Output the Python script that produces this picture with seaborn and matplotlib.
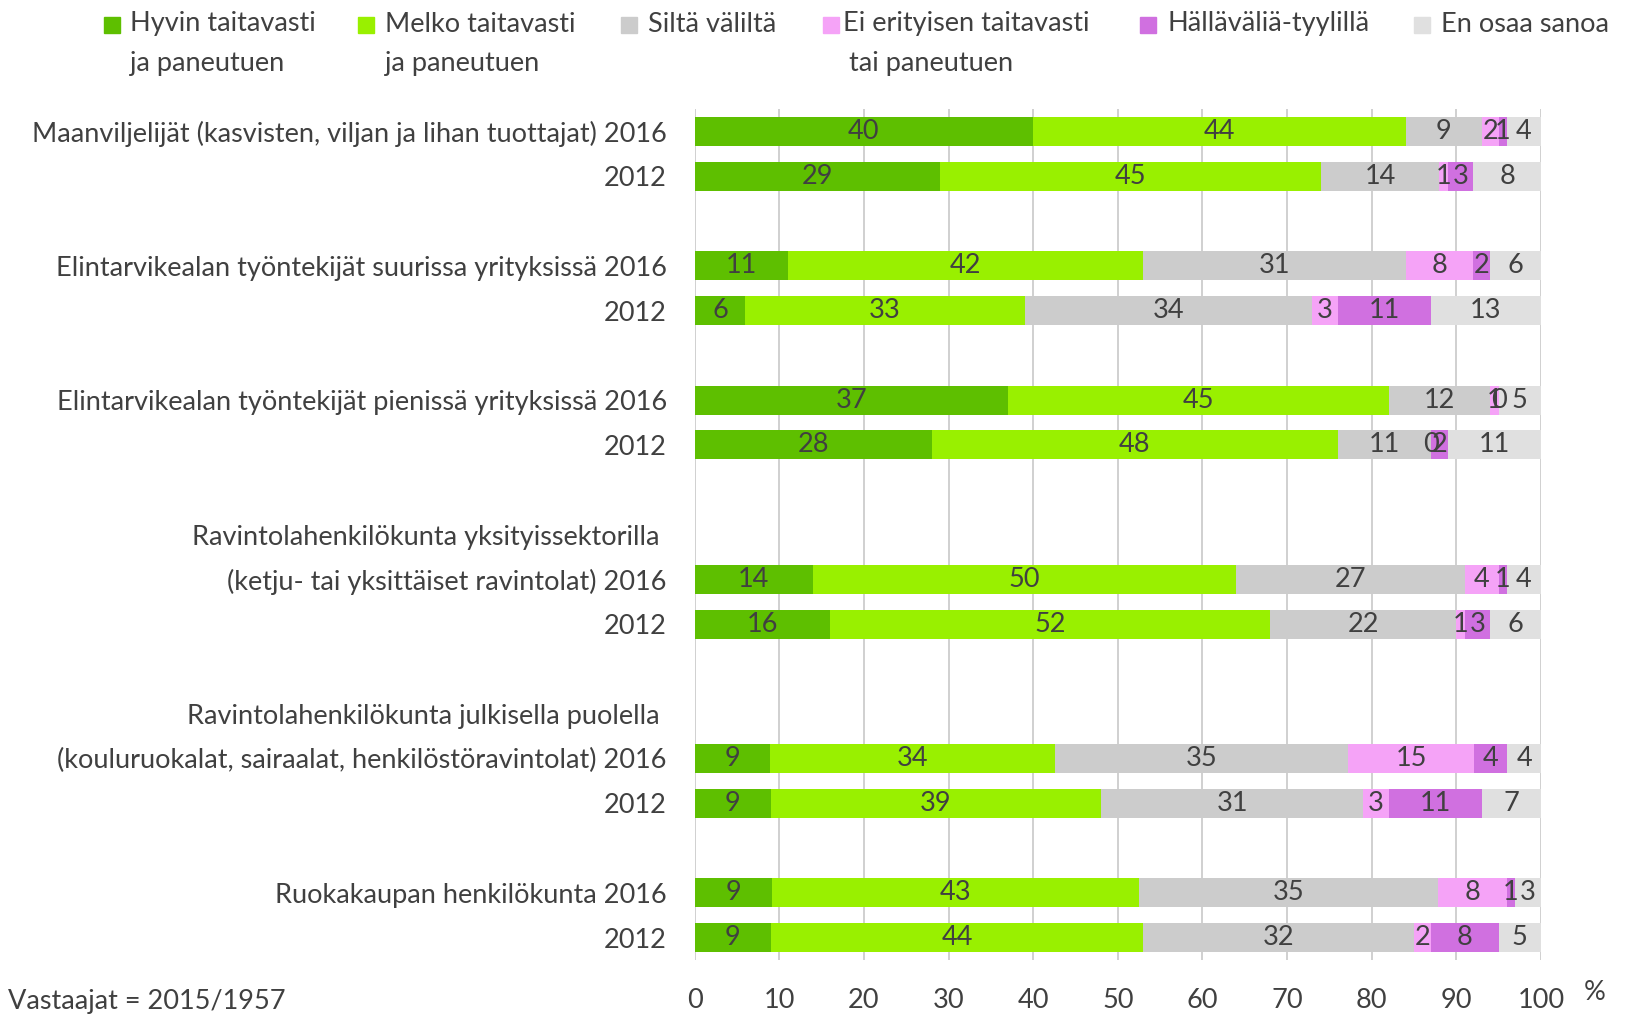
import numpy as np
import matplotlib
matplotlib.use("Agg")
import matplotlib.pyplot as plt
import seaborn as sns
from matplotlib.patches import Rectangle


# DATA

series = ["Hyvin taitavasti\nja paneutuen", "Melko taitavasti\nja paneutuen", "Siltä väliltä",
          "Ei erityisen taitavasti\ntai paneutuen", "Hälläväliä-tyylillä", "En osaa sanoa"]

row_labels = ["Maanviljelijät (kasvisten, viljan ja lihan tuottajat) 2016", "2012",
              "Elintarvikealan työntekijät suurissa yrityksissä 2016", "2012",
              "Elintarvikealan työntekijät pienissä yrityksissä 2016", "2012",
              "(ketju- tai yksittäiset ravintolat) 2016", "2012",
              "(kouluruokalat, sairaalat, henkilöstöravintolat) 2016", "2012",
              "Ruokakaupan henkilökunta 2016", "2012"]

group_headers = {9: "Ravintolahenkilökunta yksityissektorilla ",
                 13: "Ravintolahenkilökunta julkisella puolella "}

hyvin = [40, 29, 11, 6, 37, 28, 14, 16, 9, 9, 9, 9]
melko = [44, 45, 42, 33, 45, 48, 50, 52, 34, 39, 43, 44]
silta = [9, 14, 31, 34, 12, 11, 27, 22, 35, 31, 35, 32]
ei_erit = [2, 1, 8, 3, 1, 0, 4, 1, 15, 3, 8, 2]
hallvalia = [1, 3, 2, 11, 0, 2, 1, 3, 4, 11, 1, 8]
en_osaa = [4, 8, 6, 13, 5, 11, 4, 6, 4, 7, 3, 5]

x_ticks = list(range(0, 101, 10))
note = "Vastaajat = 2015/1957"

# LAYOUT (bar slots, with empty slots between the groups)

positions = np.array([0, 1, 3, 4, 6, 7, 10, 11, 14, 15, 17, 18])
colors = ["#5EBF00", "#99F000", "#CCCCCC", "#F5A3F7", "#D070E0", "#E0E0E0"]
TXT = "#404040"
FS = 19.5

sns.set_theme(style="white")
plt.rcParams['font.family'] = ['Lato', 'DejaVu Sans']

values = np.array([hyvin, melko, silta, ei_erit, hallvalia, en_osaa], dtype=float)
widths = values / values.sum(axis=0) * 100
cum = np.cumsum(widths, axis=0)

fig = plt.figure(figsize=(16.28, 10.16), dpi=100)
ax = fig.add_axes([694.6 / 1628, 1 - 960 / 1016, (1541 - 694.6) / 1628, (960 - 109) / 1016])

# layered cumulative bars, longest first
for k in range(len(series) - 1, -1, -1):
    sns.barplot(x=cum[k], y=positions, orient="y", native_scale=True, color=colors[k],
                width=0.65, errorbar=None, saturation=1, linewidth=0, ax=ax, zorder=3)

for k in range(len(series)):
    for i, p in enumerate(positions):
        ax.text(cum[k, i] - widths[k, i] / 2, p, str(int(values[k, i])), ha="center", va="center",
                fontsize=FS, color=TXT, zorder=5)

ax.set_xlim(0, 100)
ax.set_ylim(18.5, -0.5)
ax.set_xticks(x_ticks)
ax.set_xticklabels([str(t) for t in x_ticks], fontsize=FS, color=TXT)

all_pos = list(positions) + list(group_headers.keys())
all_lab = list(row_labels) + list(group_headers.values())
ax.set_yticks(all_pos)
ax.set_yticklabels(all_lab, fontsize=FS, color=TXT)
ax.tick_params(axis="x", length=0, pad=20)
ax.tick_params(axis="y", length=0, pad=20)
ax.set_xlabel("")
ax.set_ylabel("")
ax.grid(axis="x", color="#D0D0D0", linewidth=1.4, zorder=0)
ax.grid(axis="y", visible=False)
ax.set_axisbelow(True)
for s in ax.spines.values():
    s.set_visible(False)

fig.text(1584 / 1628, 1 - 993 / 1016, "%", fontsize=FS, color=TXT, ha="left", va="center")
fig.text(8 / 1628, 1 - 1002 / 1016, note, fontsize=FS, color=TXT, ha="left", va="center")

# legend drawn by hand so the square sits on the first line
sq_x = [104, 358, 621, 823, 1140, 1414]
tx_x = [130, 385, 648, 843, 1167, 1441]
for k, lab in enumerate(series):
    fig.patches.append(Rectangle((sq_x[k] / 1628, 1 - 33 / 1016), 16 / 1628, 16 / 1016,
                                 transform=fig.transFigure, color=colors[k]))
    lines = lab.split("\n")
    fig.text(tx_x[k] / 1628, 1 - 24 / 1016, lines[0], fontsize=FS, color=TXT, ha="left", va="center")
    if len(lines) > 1:
        off = 6 if k == 3 else 0
        fig.text((tx_x[k] + off) / 1628, 1 - 64 / 1016, lines[1], fontsize=FS, color=TXT,
                 ha="left", va="center")

fig.savefig("out.png", dpi=100)
